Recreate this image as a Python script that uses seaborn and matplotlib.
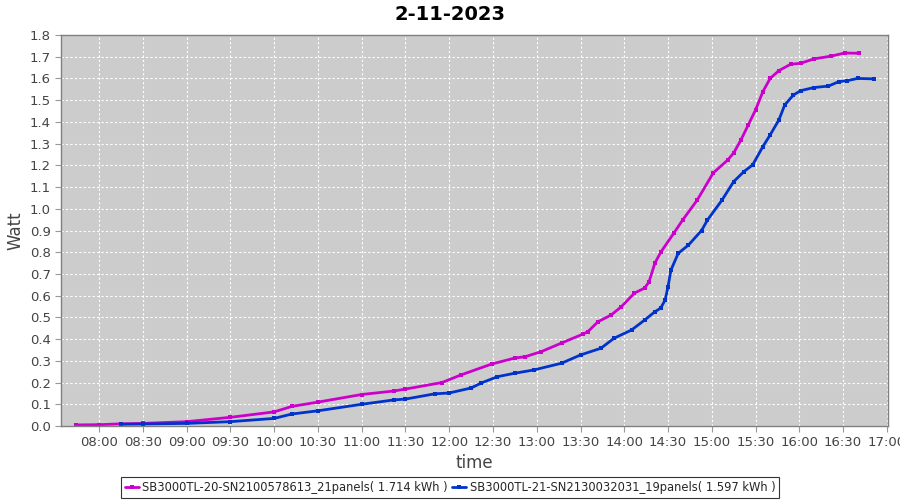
"""Daily energy yield of two inverters, JFreeChart-like look."""

import matplotlib

matplotlib.use("Agg")
import matplotlib.dates as mdates
import matplotlib.pyplot as plt
import pandas as pd
import seaborn as sns

DAY = "2023-11-02"

pink_times = [
    "07:44", "08:00", "08:15", "08:30", "09:00", "09:30", "10:00", "10:12", "10:30", "11:00",
    "11:22", "11:30", "11:55", "12:08", "12:29", "12:45", "12:52", "13:03", "13:17", "13:32",
    "13:35", "13:42", "13:51", "13:58", "14:07", "14:14", "14:17", "14:21", "14:25", "14:34",
    "14:40", "14:50", "15:01", "15:11", "15:15", "15:20", "15:25", "15:30", "15:35", "15:40",
    "15:46", "15:54", "16:01", "16:10", "16:22", "16:31", "16:41",
]
pink_values = [
    0.005, 0.006, 0.010, 0.012, 0.020, 0.040, 0.065, 0.090, 0.110, 0.145,
    0.161, 0.170, 0.200, 0.235, 0.285, 0.313, 0.319, 0.342, 0.382, 0.424,
    0.434, 0.480, 0.511, 0.549, 0.612, 0.635, 0.664, 0.750, 0.800, 0.888,
    0.948, 1.040, 1.165, 1.225, 1.257, 1.317, 1.386, 1.455, 1.539, 1.600,
    1.636, 1.665, 1.670, 1.690, 1.703, 1.717, 1.716,
]

blue_times = [
    "08:15", "08:30", "09:00", "09:30", "10:00", "10:12", "10:30", "11:00", "11:22", "11:30",
    "11:50", "12:00", "12:15", "12:22", "12:33", "12:45", "12:58", "13:17", "13:30", "13:44",
    "13:53", "14:05", "14:14", "14:21", "14:25", "14:28", "14:30", "14:32", "14:37", "14:44",
    "14:53", "14:57", "15:07", "15:15", "15:22", "15:28", "15:35", "15:40", "15:46", "15:50",
    "15:56", "16:01", "16:10", "16:20", "16:27", "16:33", "16:40", "16:51",
]
blue_values = [
    0.008, 0.009, 0.012, 0.020, 0.035, 0.055, 0.070, 0.100, 0.120, 0.124,
    0.148, 0.152, 0.175, 0.198, 0.227, 0.243, 0.258, 0.289, 0.327, 0.358,
    0.404, 0.442, 0.488, 0.526, 0.543, 0.580, 0.641, 0.718, 0.795, 0.833,
    0.900, 0.948, 1.040, 1.125, 1.171, 1.202, 1.286, 1.340, 1.409, 1.478,
    1.524, 1.544, 1.558, 1.565, 1.585, 1.590, 1.600, 1.598,
]

pink_label = "SB3000TL-20-SN2100578613_21panels( 1.714 kWh )"
blue_label = "SB3000TL-21-SN2130032031_19panels( 1.597 kWh )"


def _frame(times, values, name):
    return pd.DataFrame({
        "time": pd.to_datetime([f"{DAY} {t}" for t in times]),
        "watt": values,
        "series": name,
    })


df = pd.concat([_frame(pink_times, pink_values, pink_label),
                _frame(blue_times, blue_values, blue_label)], ignore_index=True)

sns.set_style("white")
plt.rcParams["font.family"] = ["DejaVu Sans"]

fig = plt.figure(figsize=(9, 5), dpi=100)
ax = fig.add_axes([0.068, 0.148, 0.919, 0.782])
ax.set_facecolor("#cccccc")

sns.lineplot(
    data=df, x="time", y="watt", hue="series",
    palette={pink_label: "#cc00cc", blue_label: "#0033cc"},
    linewidth=2, marker="s", markersize=2.2, markeredgewidth=0,
    ax=ax,
)

ax.set_xlim(pd.Timestamp(f"{DAY} 07:34"), pd.Timestamp(f"{DAY} 17:01"))
ax.set_ylim(0, 1.8)
ax.set_yticks([i / 10 for i in range(19)])
ax.yaxis.set_major_formatter(matplotlib.ticker.FormatStrFormatter("%.1f"))
ax.xaxis.set_major_locator(mdates.MinuteLocator(byminute=[0, 30]))
ax.xaxis.set_major_formatter(mdates.DateFormatter("%H:%M"))

ax.grid(True, color="white", linestyle=(0, (2, 2)), linewidth=0.8)
for spine in ax.spines.values():
    spine.set_color("#808080")
    spine.set_linewidth(1)
ax.tick_params(axis="both", colors="#444444", labelsize=9.5, length=4,
               direction="out", left=True, bottom=True, width=0.8)
ax.tick_params(axis="both", color="#999999")

ax.set_xlabel("time", fontsize=12, color="#444444", labelpad=3)
ax.set_ylabel("Watt", fontsize=12, color="#444444")
fig.suptitle("2-11-2023", fontsize=14, fontweight="bold", color="black", y=0.99)

# legend is centred on the figure, not on the axes
ax.legend(
    loc="upper center", bbox_to_anchor=(0.5, 0.058), bbox_transform=fig.transFigure,
    ncol=2, frameon=True, fancybox=False, edgecolor="black", fontsize=8.3,
    handlelength=1.2, handletextpad=0.3, columnspacing=0.4,
    borderpad=0.35,
).get_frame().set_linewidth(0.8)

fig.savefig("out.png", dpi=100)
plt.close(fig)
